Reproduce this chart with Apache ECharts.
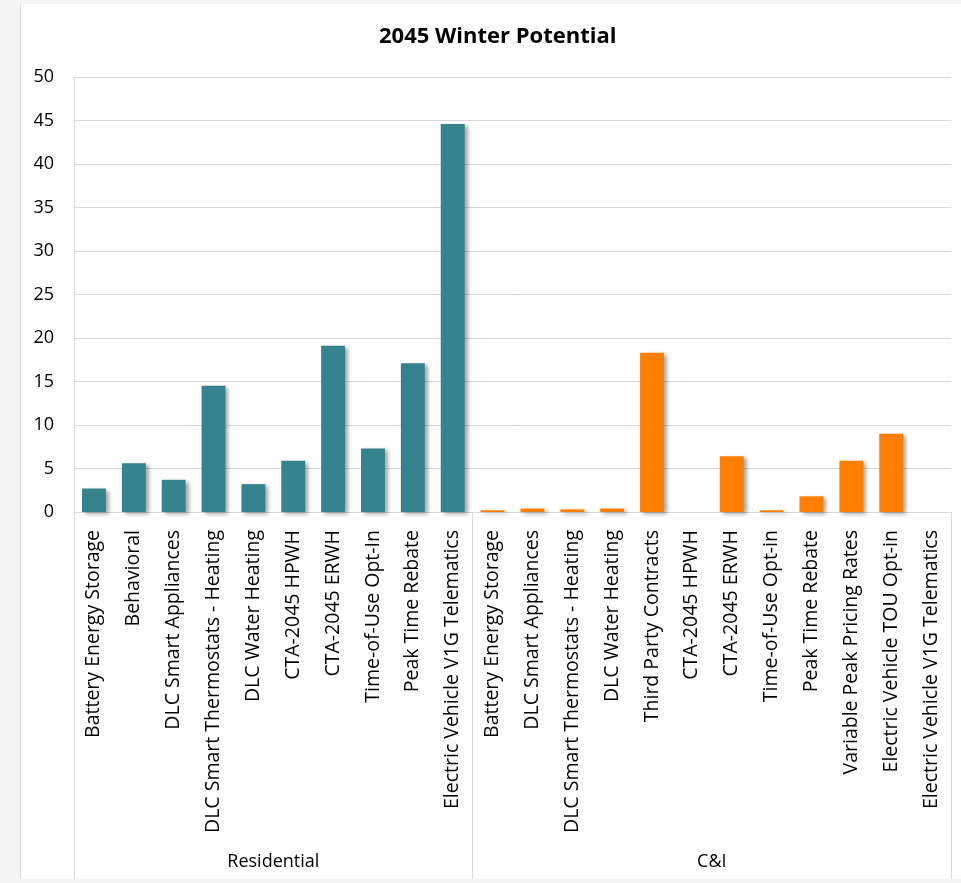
<!DOCTYPE html>
<html>
<head>
<meta charset="utf-8">
<script src="https://cdn.jsdelivr.net/npm/echarts@6/dist/echarts.min.js"></script>
<style>
  html, body { margin: 0; padding: 0; background: #f4f4f4; }
  #panel { position: absolute; left: 20px; top: 4px; width: 941px; height: 875px; background: #ffffff; border-left: 1px solid #dcdcdc; }
  #chart { position: absolute; left: 0; top: 0; width: 961px; height: 883px; }
</style>
</head>
<body>
<div id="panel"></div>
<div id="chart"></div>
<script>
// ---- data ----
const titleText = '2045 Winter Potential';
const groupNames = ['Residential', 'C&I'];
const residentialCategories = [
  'Battery Energy Storage', 'Behavioral', 'DLC Smart Appliances',
  'DLC Smart Thermostats - Heating', 'DLC Water Heating', 'CTA-2045 HPWH',
  'CTA-2045 ERWH', 'Time-of-Use Opt-In', 'Peak Time Rebate',
  'Electric Vehicle V1G Telematics'
];
const residentialValues = [2.7, 5.6, 3.7, 14.5, 3.2, 5.9, 19.1, 7.3, 17.1, 44.6];
const ciCategories = [
  'Battery Energy Storage', 'DLC Smart Appliances', 'DLC Smart Thermostats - Heating',
  'DLC Water Heating', 'Third Party Contracts', 'CTA-2045 HPWH', 'CTA-2045 ERWH',
  'Time-of-Use Opt-in', 'Peak Time Rebate', 'Variable Peak Pricing Rates',
  'Electric Vehicle TOU Opt-in', 'Electric Vehicle V1G Telematics'
];
const ciValues = [0.2, 0.4, 0.3, 0.4, 18.3, 0, 6.4, 0.2, 1.8, 5.9, 9.0, 0];
const yTicks = { min: 0, max: 50, step: 5 };

// ---- build ----
const TEAL = '#35838d';
const ORANGE = '#ff8000';
const allCategories = residentialCategories.concat(ciCategories);
const nRes = residentialCategories.length;
const nAll = allCategories.length;
const barData = residentialValues.map(v => ({ value: v, itemStyle: { color: TEAL } }))
  .concat(ciValues.map(v => ({ value: v, itemStyle: { color: ORANGE } })));
const groupCenters = [nRes / 2, nRes + (nAll - nRes) / 2];

const chart = echarts.init(document.getElementById('chart'), null, { renderer: 'canvas' });
const FONT = '"Open Sans", "Noto Sans", sans-serif';
chart.setOption({
  backgroundColor: 'transparent',
  animation: false,
  textStyle: { fontFamily: FONT },
  title: {
    text: titleText,
    left: 374,
    top: 21,
    textStyle: { fontFamily: FONT, fontWeight: 'bold', fontSize: 22, color: '#000' }
  },
  grid: { left: 74, right: 10, top: 77, bottom: 371, containLabel: false },
  xAxis: [
    {
      type: 'category',
      data: allCategories,
      axisLine: { show: true, lineStyle: { color: '#d9d9d9', width: 1 } },
      axisTick: { show: false },
      axisLabel: {
        interval: 0, rotate: 90, margin: 18,
        fontFamily: FONT, fontSize: 19.5, color: '#000'
      },
      splitLine: { show: false }
    },
    {
      type: 'value',
      min: 0, max: nAll,
      position: 'bottom',
      axisLine: { show: false },
      axisTick: {
        show: true, customValues: [0, nRes, nAll], length: 367,
        lineStyle: { color: '#d9d9d9', width: 1 }
      },
      axisLabel: {
        show: true, customValues: groupCenters, margin: 341,
        fontFamily: FONT, fontSize: 18, color: '#000',
        formatter: v => (v === groupCenters[0] ? groupNames[0] : groupNames[1])
      },
      splitLine: { show: false }
    }
  ],
  yAxis: {
    type: 'value',
    min: yTicks.min, max: yTicks.max, interval: yTicks.step,
    axisLine: { show: true, lineStyle: { color: '#d9d9d9', width: 1 } },
    axisTick: { show: false },
    axisLabel: { margin: 20, fontFamily: FONT, fontSize: 18, color: '#000' },
    splitLine: { show: true, lineStyle: { color: '#d9d9d9', width: 1 } }
  },
  series: [
    {
      type: 'bar',
      xAxisIndex: 0,
      data: barData,
      barWidth: '60%',
      itemStyle: {
        shadowColor: 'rgba(0,0,0,0.35)',
        shadowBlur: 4,
        shadowOffsetX: 3,
        shadowOffsetY: 2
      }
    }
  ]
});
</script>
</body>
</html>
